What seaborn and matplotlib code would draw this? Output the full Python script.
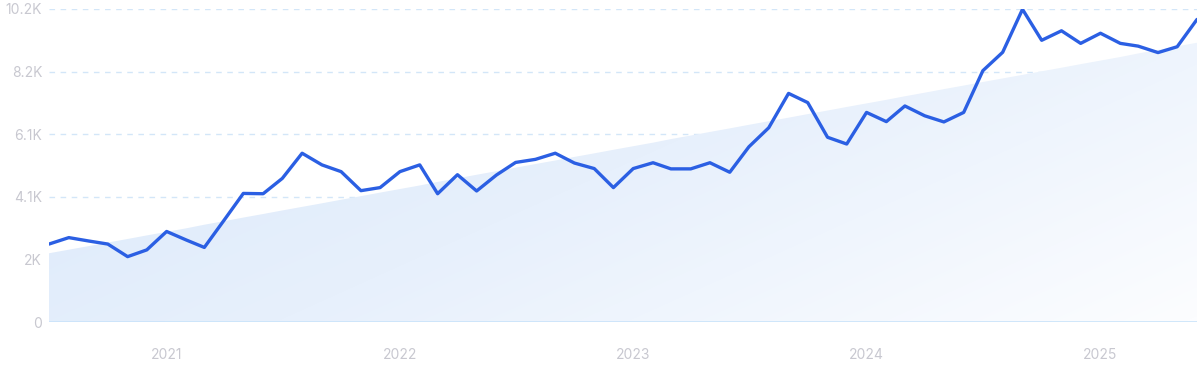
import numpy as np
import pandas as pd
import matplotlib
matplotlib.use("Agg")
import matplotlib.pyplot as plt
import matplotlib.dates as mdates
from matplotlib.colors import LinearSegmentedColormap
import seaborn as sns

# ---- data ----
start_month = "2020-07-01"
values = [2540, 2750, 2640, 2540, 2130, 2350, 2950, 2670, 2430, 3320,
          4190, 4180, 4680, 5500, 5120, 4900, 4280, 4380, 4900, 5120,
          4180, 4800, 4270, 4790, 5200, 5300, 5500, 5180, 5000, 4380,
          5000, 5190, 4990, 4990, 5190, 4880, 5710, 6330, 7450, 7150,
          6020, 5800, 6830, 6530, 7040, 6720, 6520, 6830, 8190, 8790,
          10190, 9180, 9490, 9080, 9410, 9080, 8990, 8780, 8970, 9860]
trend_ends = [2240, 9100]
ytick_values = [0, 2040, 4080, 6120, 8160, 10200]
ytick_labels = ["0", "2K", "4.1K", "6.1K", "8.2K", "10.2K"]
year_labels = ["2021", "2022", "2023", "2024", "2025"]

dates = pd.date_range(start_month, periods=len(values), freq="MS")
df = pd.DataFrame({"date": dates, "value": values})

sns.set_theme(style="white")
plt.rcParams["font.family"] = ["Inter", "DejaVu Sans"]

fig = plt.figure(figsize=(12, 3.71), dpi=100)
ax = fig.add_axes([49 / 1200, 1 - 322 / 371, (1197 - 49) / 1200, (322 - 9) / 371])

xnum = mdates.date2num(dates)
trend = np.linspace(trend_ends[0], trend_ends[1], len(values))

# gradient trend area
poly = ax.fill_between(dates, 0, trend, color="none", lw=0, zorder=1)
cmap = LinearSegmentedColormap.from_list("g", ["#d9e8fa", "#e7f0fc", "#fcfdff"])
nx, ny = 300, 100
gx, gy = np.meshgrid(np.linspace(0, 1, nx), np.linspace(1, 0, ny))
grad = 0.75 * gx + 0.45 * (1 - gy)
grad = grad / grad.max()
im = ax.imshow(grad, cmap=cmap, aspect="auto", origin="upper",
               extent=[xnum[0], xnum[-1], 0, 10200], zorder=1, interpolation="bilinear")
path = poly.get_paths()[0]
im.set_clip_path(path, transform=ax.transData)

# grid
for yv in ytick_values[1:]:
    ax.axhline(yv, color="#d3e6f8", lw=1.0, ls=(0, (4, 4)), zorder=0.5)
ax.axhline(0, color="#c9e3fa", lw=1.2, zorder=2)

sns.lineplot(data=df, x="date", y="value", ax=ax, color="#2b5fe3", lw=2.4, zorder=3)

ax.set_xlim(xnum[0], xnum[-1])
ax.set_ylim(0, 10200)
ax.set_yticks(ytick_values)
ax.set_yticklabels(ytick_labels)
year_ticks = [pd.Timestamp(f"{y}-01-01") for y in year_labels]
ax.set_xticks(mdates.date2num(year_ticks))
ax.set_xticklabels(year_labels)
ax.tick_params(axis="both", length=0, labelsize=10, labelcolor="#c8c8d0")
ax.tick_params(axis="y", pad=5)
ax.tick_params(axis="x", pad=19)
ax.set_xlabel("")
ax.set_ylabel("")
for s in ax.spines.values():
    s.set_visible(False)
ax.grid(False)
ax.set_facecolor("none")

fig.savefig("out.png", dpi=100)
